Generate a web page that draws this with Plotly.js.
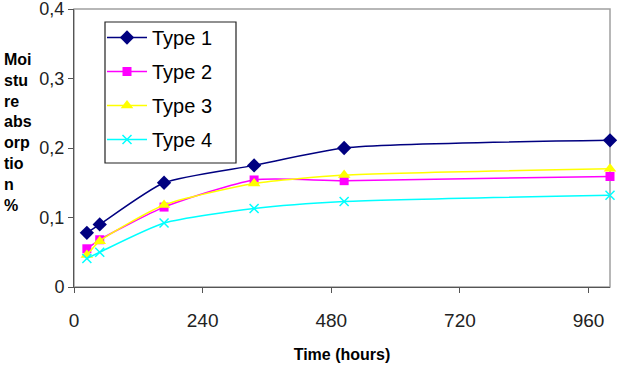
<!DOCTYPE html>
<html>
<head>
<meta charset="utf-8">
<script src="https://cdn.plot.ly/plotly-3.0.1.min.js"></script>
<style>
  html, body { margin: 0; padding: 0; background: #fff; }
  #chart { width: 619px; height: 371px; }
</style>
</head>
<body>
<div id="chart"></div>
<script>
// Moisture absorption over time for four material types
const hours = [24, 48, 168, 336, 504, 1000];
const type1 = [0.078, 0.090, 0.150, 0.175, 0.200, 0.211];
const type2 = [0.055, 0.068, 0.115, 0.154, 0.153, 0.159];
const type3 = [0.046, 0.066, 0.118, 0.149, 0.161, 0.170];
const type4 = [0.041, 0.050, 0.092, 0.113, 0.123, 0.132];
const seriesNames = ['Type 1', 'Type 2', 'Type 3', 'Type 4'];
const xTicks = [0, 240, 480, 720, 960];
const yTicks = [0, 0.1, 0.2, 0.3, 0.4];
const yTickText = ['0', '0,1', '0,2', '0,3', '0,4'];

const styles = [
  { color: '#000080', symbol: 'diamond', size: 11 },
  { color: '#FF00FF', symbol: 'square', size: 9 },
  { color: '#FFFF00', symbol: 'triangle-up', size: 11 },
  { color: '#00FFFF', symbol: 'x-thin-open', size: 9 }
];

const values = [type1, type2, type3, type4];
const traces = values.map((ys, i) => ({
  type: 'scatter',
  mode: 'lines+markers',
  name: seriesNames[i],
  legendgroup: 'g' + i,
  x: hours,
  y: ys,
  cliponaxis: false,
  line: { color: styles[i].color, width: 1.5, shape: 'spline', smoothing: 0.6 },
  marker: {
    color: styles[i].color,
    symbol: styles[i].symbol,
    size: styles[i].size,
    line: { color: styles[i].color, width: styles[i].symbol === 'x-thin-open' ? 1.5 : 0 }
  }
}));

// plot area spans 536 x 278 px; helpers convert pixel offsets to paper fractions
const px = v => (v - 74) / 536;
const py = v => (287 - v) / 278;

const layout = {
  width: 619,
  height: 371,
  margin: { l: 74, r: 9, t: 9, b: 84 },
  paper_bgcolor: '#ffffff',
  plot_bgcolor: '#ffffff',
  separators: ', ',
  font: { family: 'Arial, "Liberation Sans", sans-serif', color: '#000' },
  showlegend: true,
  legend: {
    x: px(102), y: py(18),
    xanchor: 'left', yanchor: 'top',
    bgcolor: 'rgba(0,0,0,0)',
    borderwidth: 0,
    font: { size: 20, color: '#000' },
    itemwidth: 40,
    tracegroupgap: 5
  },
  xaxis: {
    range: [0, 1000],
    tickvals: xTicks,
    ticktext: xTicks.map(String),
    ticks: 'outside', ticklen: 5, tickcolor: '#555',
    showline: true, linecolor: '#555', linewidth: 1,
    showgrid: false, zeroline: false,
    tickfont: { size: 19, color: '#222' },
    ticklabelstandoff: 11,
    title: { text: 'Time (hours)', font: { size: 16, color: '#000', weight: 'bold' }, standoff: 19 }
  },
  yaxis: {
    range: [0, 0.4],
    tickvals: yTicks,
    ticktext: yTickText,
    ticks: 'outside', ticklen: 5, tickcolor: '#555',
    showline: true, linecolor: '#555', linewidth: 1,
    showgrid: false, zeroline: false,
    ticklabeloverflow: 'allow',
    tickfont: { size: 18, color: '#222' }
  },
  shapes: [
    {
      type: 'rect', xref: 'paper', yref: 'paper',
      x0: 0, x1: 1, y0: 0, y1: 1,
      line: { color: '#a0a0a0', width: 1.5 },
      layer: 'below'
    },
    {
      // legend frame
      type: 'rect', xref: 'paper', yref: 'paper',
      x0: px(105), x1: px(236), y0: py(163), y1: py(22),
      fillcolor: '#ffffff',
      line: { color: '#222', width: 1.2 },
      layer: 'above'
    }
  ],
  annotations: [{
    xref: 'paper', yref: 'paper',
    x: px(2), y: py(132),
    xanchor: 'left', yanchor: 'middle', align: 'left',
    showarrow: false,
    text: 'Moi<br>stu<br>re<br>abs<br>orp<br>tio<br>n<br>%',
    font: { size: 16, color: '#000', weight: 'bold' }
  }]
};

Plotly.newPlot('chart', traces, layout, { displayModeBar: false, staticPlot: true });
</script>
</body>
</html>
